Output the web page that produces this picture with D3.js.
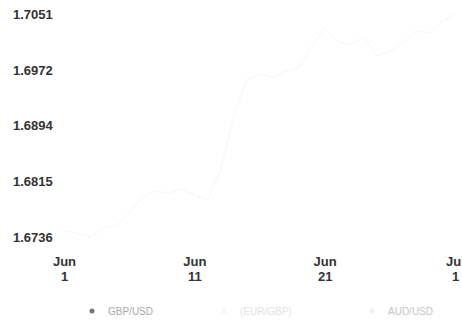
<!DOCTYPE html>
<html>
<head>
<meta charset="utf-8">
<script src="https://cdn.jsdelivr.net/npm/d3@7/dist/d3.min.js"></script>
<style>
  html, body { margin: 0; padding: 0; background: #fff; }
  svg { display: block; }
  .tick text { font-family: "Liberation Sans", Arial, sans-serif; font-weight: bold; font-size: 13px; fill: #333; }
  .legend text { font-family: "Liberation Sans", Arial, sans-serif; font-size: 10px; }
</style>
</head>
<body>
<svg id="chart" width="462" height="320"></svg>
<script>
// Daily closing rates, June 2014
const dates = [
  "2014-06-01","2014-06-02","2014-06-03","2014-06-04","2014-06-05","2014-06-06",
  "2014-06-07","2014-06-08","2014-06-09","2014-06-10","2014-06-11","2014-06-12",
  "2014-06-13","2014-06-14","2014-06-15","2014-06-16","2014-06-17","2014-06-18",
  "2014-06-19","2014-06-20","2014-06-21","2014-06-22","2014-06-23","2014-06-24",
  "2014-06-25","2014-06-26","2014-06-27","2014-06-28","2014-06-29","2014-06-30",
  "2014-07-01"
];
const rates = [
  1.6745, 1.6741, 1.6736, 1.6748, 1.6752, 1.6770,
  1.6792, 1.6801, 1.6798, 1.6803, 1.6796, 1.6788,
  1.6830, 1.6905, 1.6958, 1.6966, 1.6962, 1.6970,
  1.6975, 1.7004, 1.7032, 1.7012, 1.7008, 1.7019,
  1.6992, 1.6998, 1.7010, 1.7027, 1.7024, 1.7040,
  1.7051
];
const seriesNames = ["GBP/USD", "(EUR/GBP)", "AUD/USD"];
const seriesColors = ["#f5f5f5", "#f8f8f8", "#f8f8f8"];
const legendMarkColors = ["#777777", "#f4f4f4", "#f0f0f0"];
const legendTextColors = ["#a8a8a8", "#e2e2e2", "#c4c4c4"];
const yTicks = [1.6736, 1.6815, 1.6894, 1.6972, 1.7051];
const xTicks = ["2014-06-01", "2014-06-11", "2014-06-21", "2014-07-01"];

const parse = d3.utcParse("%Y-%m-%d");
const points = dates.map((d, i) => ({ date: parse(d), value: rates[i] }));

const svg = d3.select("#chart");

const x = d3.scaleUtc()
  .domain([parse("2014-06-01"), parse("2014-07-01")])
  .range([64, 455]);
const y = d3.scaleLinear()
  .domain([d3.min(rates), d3.max(rates)])
  .range([237, 14]);

// y axis: labels left-aligned, no line
const yAxis = svg.append("g")
  .attr("transform", "translate(13,0)")
  .call(d3.axisLeft(y).tickValues(yTicks).tickSize(0).tickFormat(d3.format(".4f")));
yAxis.select(".domain").remove();
yAxis.selectAll(".tick text").attr("text-anchor", "start").attr("x", 0);

// x axis: two-line month/day labels
const xAxis = svg.append("g")
  .attr("transform", "translate(0,248)")
  .call(d3.axisBottom(x).tickValues(xTicks.map(parse)).tickSize(0).tickFormat(""));
xAxis.select(".domain").remove();
xAxis.selectAll(".tick text").each(function (d) {
  const t = d3.select(this).attr("y", 0).attr("dy", 0);
  t.append("tspan").attr("x", 0).attr("y", 18).text(d3.utcFormat("%b")(d));
  t.append("tspan").attr("x", 0).attr("y", 33).text(d3.utcFormat("%-d")(d));
});

// rate line
const line = d3.line().x(d => x(d.date)).y(d => y(d.value));
svg.append("path")
  .datum(points)
  .attr("fill", "none")
  .attr("stroke", seriesColors[0])
  .attr("stroke-width", 1)
  .attr("d", line);

// legend
const legendX = [92, 224, 372];
const legend = svg.append("g").attr("class", "legend");
seriesNames.forEach((name, i) => {
  const g = legend.append("g").attr("transform", `translate(${legendX[i]},311)`);
  g.append("circle").attr("r", 2.5).attr("fill", legendMarkColors[i]);
  g.append("text").attr("x", 16).attr("dy", "0.35em").attr("fill", legendTextColors[i]).text(name);
});
</script>
</body>
</html>
